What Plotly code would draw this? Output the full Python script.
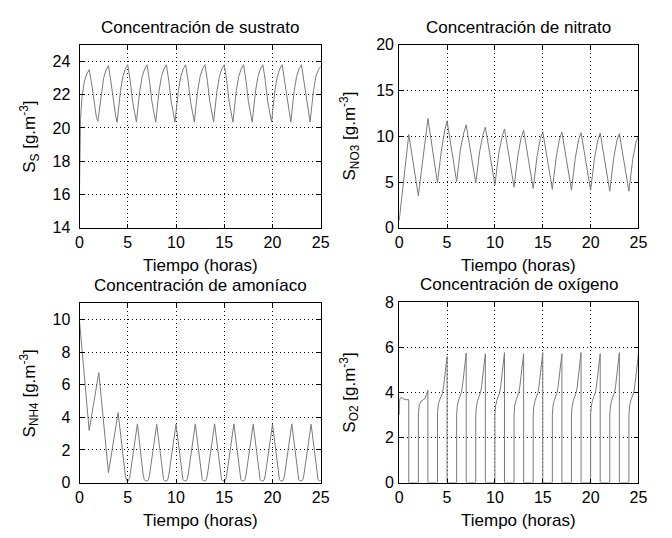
import plotly.graph_objects as go

# ---------------- data ----------------
# Substrate concentration S_S
t_sus = [0, 0.04, 0.1, 0.25, 0.5, 0.75,
         1.0, 1.25, 1.5, 1.75, 1.9, 2.05, 2.25, 2.5, 2.75,
         3.0, 3.25, 3.5, 3.75, 3.9, 4.05, 4.25, 4.5, 4.75,
         5.0, 5.25, 5.5, 5.75, 5.9, 6.05, 6.25, 6.5, 6.75,
         7.0, 7.25, 7.5, 7.75, 7.9, 8.05, 8.25, 8.5, 8.75,
         9.0, 9.25, 9.5, 9.75, 9.9, 10.05, 10.25, 10.5, 10.75,
         11.0, 11.25, 11.5, 11.75, 11.9, 12.05, 12.25, 12.5, 12.75,
         13.0, 13.25, 13.5, 13.75, 13.9, 14.05, 14.25, 14.5, 14.75,
         15.0, 15.25, 15.5, 15.75, 15.9, 16.05, 16.25, 16.5, 16.75,
         17.0, 17.25, 17.5, 17.75, 17.9, 18.05, 18.25, 18.5, 18.75,
         19.0, 19.25, 19.5, 19.75, 19.9, 20.05, 20.25, 20.5, 20.75,
         21.0, 21.25, 21.5, 21.75, 21.9, 22.05, 22.25, 22.5, 22.75,
         23.0, 23.25, 23.5, 23.75, 23.9, 24.05, 24.25, 24.5, 24.75,
         25.0]
s_sus = [16.3, 19.0, 20.5, 21.8, 22.8, 23.25,
         23.5, 22.7, 21.5, 20.65, 20.4, 21.1, 22.15, 23.0, 23.5,
         23.75, 22.8, 21.6, 20.7, 20.35, 21.2, 22.25, 23.1, 23.55,
         23.8, 22.85, 21.6, 20.7, 20.35, 21.2, 22.25, 23.1, 23.55,
         23.8, 22.85, 21.6, 20.7, 20.35, 21.2, 22.25, 23.1, 23.55,
         23.8, 22.85, 21.6, 20.7, 20.35, 21.2, 22.25, 23.1, 23.55,
         23.8, 22.85, 21.6, 20.7, 20.35, 21.2, 22.25, 23.1, 23.55,
         23.8, 22.85, 21.6, 20.7, 20.35, 21.2, 22.25, 23.1, 23.55,
         23.8, 22.85, 21.6, 20.7, 20.35, 21.2, 22.25, 23.1, 23.55,
         23.8, 22.85, 21.6, 20.7, 20.35, 21.2, 22.25, 23.1, 23.55,
         23.8, 22.85, 21.6, 20.7, 20.35, 21.2, 22.25, 23.1, 23.55,
         23.8, 22.85, 21.6, 20.7, 20.35, 21.2, 22.25, 23.1, 23.55,
         23.8, 22.85, 21.6, 20.7, 20.35, 21.2, 22.25, 23.1, 23.5,
         23.7]

# Nitrate concentration S_NO3
t_nit = [0, 1, 2, 3,
         4, 4.4, 4.75, 5,
         6, 6.4, 6.75, 7,
         8, 8.4, 8.75, 9,
         10, 10.4, 10.75, 11,
         12, 12.4, 12.75, 13,
         14, 14.4, 14.75, 15,
         16, 16.4, 16.75, 17,
         18, 18.4, 18.75, 19,
         20, 20.4, 20.75, 21,
         22, 22.4, 22.75, 23,
         24, 24.4, 24.75, 25]
s_nit = [0.8, 10.2, 3.5, 11.95,
         4.9, 8.4, 10.6, 11.7,
         5.05, 8.6, 10.4, 11.25,
         4.9, 8.3, 10.2, 11.0,
         4.7, 8.1, 10.0, 10.8,
         4.45, 7.9, 9.9, 10.65,
         4.3, 7.8, 9.75, 10.5,
         4.2, 7.7, 9.7, 10.45,
         4.1, 7.65, 9.65, 10.4,
         4.1, 7.6, 9.6, 10.35,
         4.0, 7.55, 9.55, 10.3,
         4.0, 7.5, 9.4, 10.0]

# Ammonia concentration S_NH4
t_amo = [0, 1, 2, 3, 4,
         4.75, 4.9, 5.05, 5.2,
         6, 6.6, 6.72, 6.85, 7.05, 7.15, 7.25,
         8, 8.6, 8.72, 8.85, 9.05, 9.15, 9.25,
         10, 10.6, 10.72, 10.85, 11.05, 11.15, 11.25,
         12, 12.6, 12.72, 12.85, 13.05, 13.15, 13.25,
         14, 14.6, 14.72, 14.85, 15.05, 15.15, 15.25,
         16, 16.6, 16.72, 16.85, 17.05, 17.15, 17.25,
         18, 18.6, 18.72, 18.85, 19.05, 19.15, 19.25,
         20, 20.6, 20.72, 20.85, 21.05, 21.15, 21.25,
         22, 22.6, 22.72, 22.85, 23.05, 23.15, 23.25,
         24, 24.6, 24.72, 24.85, 25]
s_amo = [9.9, 3.2, 6.75, 0.6, 4.3,
         0.4, 0.12, 0.1, 0.3,
         3.6, 0.45, 0.18, 0.1, 0.1, 0.2, 0.45,
         3.57, 0.45, 0.18, 0.1, 0.1, 0.2, 0.45,
         3.58, 0.45, 0.18, 0.1, 0.1, 0.2, 0.45,
         3.6, 0.45, 0.18, 0.1, 0.1, 0.2, 0.45,
         3.6, 0.45, 0.18, 0.1, 0.1, 0.2, 0.45,
         3.6, 0.45, 0.18, 0.1, 0.1, 0.2, 0.45,
         3.58, 0.45, 0.18, 0.1, 0.1, 0.2, 0.45,
         3.58, 0.45, 0.18, 0.1, 0.1, 0.2, 0.45,
         3.6, 0.45, 0.18, 0.1, 0.1, 0.2, 0.45,
         3.58, 0.45, 0.18, 0.1, 0.12]

# Oxygen concentration S_O2
t_oxi = [0, 0.05, 0.2, 0.45, 0.6, 1.0, 1.0,
         2.0, 2.0, 2.1, 2.3, 2.5, 2.7, 2.85, 3.0, 3.0,
         4.0, 4.0, 4.1, 4.3, 4.5, 4.65, 4.8, 4.92, 5.0, 5.0,
         6.0, 6.0, 6.07, 6.2, 6.4, 6.5, 6.6, 6.75, 6.88, 6.97, 7.0, 7.0,
         8.0, 8.0, 8.07, 8.2, 8.4, 8.5, 8.6, 8.75, 8.88, 8.97, 9.0, 9.0,
         10.0, 10.0, 10.07, 10.2, 10.4, 10.5, 10.6, 10.75, 10.88, 10.97, 11.0, 11.0,
         12.0, 12.0, 12.07, 12.2, 12.4, 12.5, 12.6, 12.75, 12.88, 12.97, 13.0, 13.0,
         14.0, 14.0, 14.07, 14.2, 14.4, 14.5, 14.6, 14.75, 14.88, 14.97, 15.0, 15.0,
         16.0, 16.0, 16.07, 16.2, 16.4, 16.5, 16.6, 16.75, 16.88, 16.97, 17.0, 17.0,
         18.0, 18.0, 18.07, 18.2, 18.4, 18.5, 18.6, 18.75, 18.88, 18.97, 19.0, 19.0,
         20.0, 20.0, 20.07, 20.2, 20.4, 20.5, 20.6, 20.75, 20.88, 20.97, 21.0, 21.0,
         22.0, 22.0, 22.07, 22.2, 22.4, 22.5, 22.6, 22.75, 22.88, 22.97, 23.0, 23.0,
         24.0, 24.0, 24.07, 24.2, 24.4, 24.5, 24.6, 24.75, 24.88, 24.97, 25.0]
s_oxi = [3.0, 3.7, 3.78, 3.72, 3.68, 3.68, 0,
         0, 3.0, 3.45, 3.62, 3.66, 3.75, 3.9, 4.1, 0,
         0, 3.1, 3.5, 3.75, 3.95, 4.3, 4.85, 5.3, 5.6, 0,
         0, 3.0, 3.4, 3.65, 3.85, 4.0, 4.25, 4.8, 5.35, 5.7, 5.75, 0,
         0, 3.0, 3.4, 3.65, 3.85, 4.0, 4.25, 4.8, 5.35, 5.68, 5.72, 0,
         0, 3.0, 3.4, 3.65, 3.85, 4.0, 4.25, 4.8, 5.35, 5.72, 5.77, 0,
         0, 3.0, 3.4, 3.65, 3.85, 4.0, 4.25, 4.8, 5.35, 5.68, 5.72, 0,
         0, 3.0, 3.4, 3.65, 3.85, 4.0, 4.25, 4.8, 5.35, 5.72, 5.77, 0,
         0, 3.0, 3.4, 3.65, 3.85, 4.0, 4.25, 4.8, 5.35, 5.68, 5.72, 0,
         0, 3.0, 3.4, 3.65, 3.85, 4.0, 4.25, 4.8, 5.35, 5.72, 5.77, 0,
         0, 3.0, 3.4, 3.65, 3.85, 4.0, 4.25, 4.8, 5.35, 5.68, 5.72, 0,
         0, 3.0, 3.4, 3.65, 3.85, 4.0, 4.25, 4.8, 5.35, 5.72, 5.77, 0,
         0, 3.0, 3.4, 3.65, 3.85, 4.0, 4.25, 4.8, 5.35, 5.68, 5.7]

titles = ["Concentración de sustrato", "Concentración de nitrato",
          "Concentración de amoníaco", "Concentración de oxígeno"]
ylabels = ["S<sub>S</sub> [g.m<sup>-3</sup>]", "S<sub>NO3</sub> [g.m<sup>-3</sup>]",
           "S<sub>NH4</sub> [g.m<sup>-3</sup>]", "S<sub>O2</sub> [g.m<sup>-3</sup>]"]
xlabel = "Tiempo (horas)"
x_ticks = [0, 5, 10, 15, 20, 25]
y_ranges = [[14, 25], [0, 20], [0, 11], [0, 8]]
y_ticks = [[14, 16, 18, 20, 22, 24], [0, 5, 10, 15, 20],
           [0, 2, 4, 6, 8, 10], [0, 2, 4, 6, 8]]

# ---------------- layout ----------------
W, H = 672, 538
FONT = "Liberation Sans, Arial, sans-serif"
LINE = "#7a7a7a"
TXT = 17
TICK = 16

def px_x(p):
    return p / W

def px_y(p):
    return 1 - p / H

# pixel boxes: (left, right, top, bottom)
boxes = [(77, 323, 38, 227), (403, 647, 38, 227),
         (77, 323, 305, 490), (403, 647, 304, 490)]
ystand = [5, 1, 5, 1]

series = [(t_sus, s_sus), (t_nit, s_nit), (t_amo, s_amo), (t_oxi, s_oxi)]

fig = go.Figure()
annotations = []
for i, ((l, r, t, b), (tx, ty)) in enumerate(zip(boxes, series)):
    n = "" if i == 0 else str(i + 1)
    xa = "x" + n
    ya = "y" + n
    fig.add_trace(go.Scatter(x=tx, y=ty, mode="lines", xaxis=xa, yaxis=ya,
                             line=dict(color=LINE, width=1), showlegend=False,
                             hoverinfo="skip"))
    common = dict(showline=True, linecolor="black", linewidth=1, mirror="ticks",
                  ticks="inside", ticklen=4, tickcolor="black",
                  showgrid=True, gridcolor="black", griddash="1px,3px", gridwidth=1,
                  zeroline=False, tickfont=dict(family=FONT, size=TICK, color="black"))
    fig.layout["xaxis" + n] = dict(domain=[px_x(l), px_x(r)], anchor=ya,
                                   range=[0, 25], tickvals=x_ticks,
                                   ticklabelstandoff=0, **common)
    fig.layout["yaxis" + n] = dict(domain=[px_y(b), px_y(t)], anchor=xa,
                                   range=y_ranges[i], tickvals=y_ticks[i],
                                   ticklabelstandoff=ystand[i], **common)
    cx = (l + r) / 2
    annotations.append(dict(text=titles[i], x=px_x(cx), y=px_y(t - 18),
                            xref="paper", yref="paper", xanchor="center",
                            yanchor="middle", showarrow=False,
                            font=dict(family=FONT, size=TXT, color="black")))
    annotations.append(dict(text=xlabel, x=px_x(cx), y=px_y(b + 39),
                            xref="paper", yref="paper", xanchor="center",
                            yanchor="middle", showarrow=False,
                            font=dict(family=FONT, size=TXT, color="black")))
    annotations.append(dict(text=ylabels[i], x=px_x(l - 51), y=px_y((t + b) / 2),
                            xref="paper", yref="paper", xanchor="center",
                            yanchor="middle", textangle=-90, showarrow=False,
                            font=dict(family=FONT, size=TXT, color="black")))

fig.update_layout(width=W, height=H, margin=dict(l=0, r=0, t=0, b=0),
                  paper_bgcolor="white", plot_bgcolor="white",
                  annotations=annotations,
                  font=dict(family=FONT, size=TXT, color="black"))

fig.write_html("out.html")
